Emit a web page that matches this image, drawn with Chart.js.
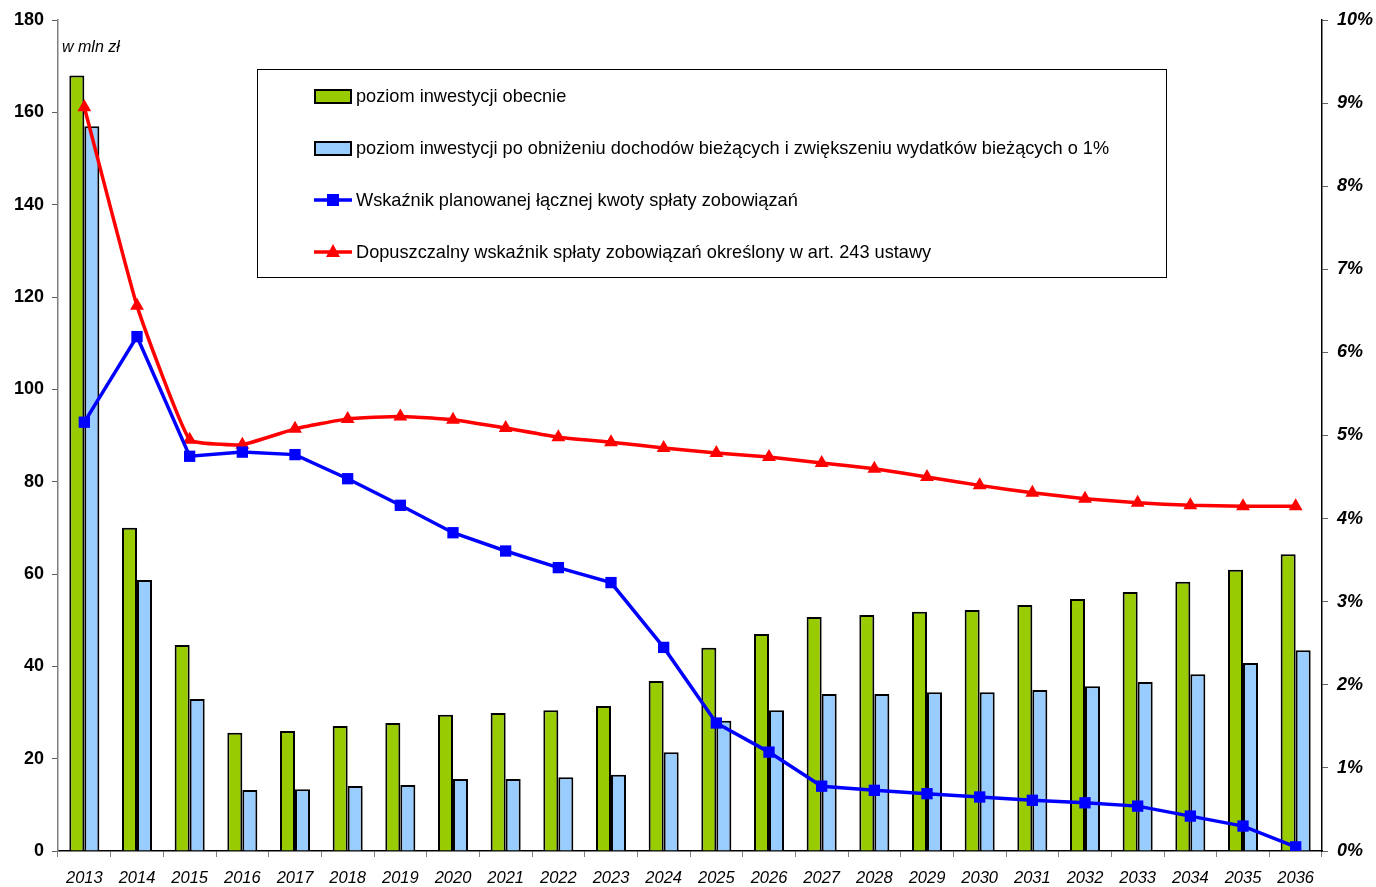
<!DOCTYPE html>
<html>
<head>
<meta charset="utf-8">
<script src="https://cdn.jsdelivr.net/npm/chart.js@4/dist/chart.umd.min.js"></script>
<style>
  html, body { margin: 0; padding: 0; background: #fff; }
  #wrap { width: 1376px; height: 887px; }
</style>
</head>
<body>
<div id="wrap"><canvas id="chart" width="1376" height="887"></canvas></div>
<script>
// Years on the category axis
const years = ['2013','2014','2015','2016','2017','2018','2019','2020','2021','2022','2023','2024',
               '2025','2026','2027','2028','2029','2030','2031','2032','2033','2034','2035','2036'];

// Investment level now (mln zł)
const investNow = [168, 70.0, 44.6, 25.6, 26.0, 27.1, 27.7, 29.5, 29.9, 30.5, 31.4, 36.8,
                   44.0, 47.0, 50.7, 51.1, 51.8, 52.2, 53.3, 54.6, 56.1, 58.3, 60.9, 64.3];

// Investment level after lowering income / raising expenses by 1% (mln zł)
const investLower = [157.0, 58.7, 32.9, 13.2, 13.4, 14.1, 14.3, 15.6, 15.6, 16.0, 16.5, 21.4,
                     28.2, 30.5, 34.0, 34.0, 34.4, 34.4, 34.9, 35.7, 36.6, 38.3, 40.7, 43.5];

// Planned repayment ratio (fraction)
const plannedRatio = [0.0516, 0.0619, 0.0475, 0.0480, 0.0477, 0.0448, 0.0416, 0.0383, 0.0361, 0.0341, 0.0323, 0.0245,
                      0.0154, 0.0119, 0.0078, 0.0073, 0.0069, 0.0065, 0.0061, 0.0058, 0.0054, 0.0042, 0.0030, 0.0005];

// Allowed repayment ratio, art. 243 (fraction)
const allowedRatio = [0.0895, 0.0656, 0.0495, 0.0489, 0.0508, 0.0520, 0.0523, 0.0519, 0.0509, 0.0498, 0.0492, 0.0485,
                      0.0479, 0.0474, 0.0467, 0.0460, 0.0450, 0.0440, 0.0431, 0.0424, 0.0419, 0.0416, 0.0415, 0.0415];

const labels = [
  'poziom inwestycji obecnie',
  'poziom inwestycji po obniżeniu dochodów bieżących i zwiększeniu wydatków bieżących o 1%',
  'Wskaźnik planowanej łącznej kwoty spłaty zobowiązań',
  'Dopuszczalny wskaźnik spłaty zobowiązań określony w art. 243 ustawy'
];

const FONT = '"Liberation Sans", Arial, sans-serif';
const GREEN = '#99cc00', LBLUE = '#99ccff', BLUE = '#0000ff', RED = '#ff0000';

const overlay = {
  id: 'overlay',
  afterDraw(chart) {
    const ctx = chart.ctx;
    ctx.save();
    // unit note
    ctx.fillStyle = '#000';
    ctx.font = 'italic 16px ' + FONT;
    ctx.textBaseline = 'middle';
    ctx.textAlign = 'left';
    ctx.fillText('w mln zł', 62, 48);

    // legend box
    ctx.strokeStyle = '#000';
    ctx.lineWidth = 1;
    ctx.strokeRect(257.5, 69.5, 909, 208);
    const rows = [96, 148, 200, 252];
    ctx.font = '18.2px ' + FONT;
    rows.forEach((y, i) => {
      if (i < 2) {
        ctx.fillStyle = i === 0 ? GREEN : LBLUE;
        ctx.fillRect(315, y - 6, 36, 13);
        ctx.lineWidth = 2;
        ctx.strokeStyle = '#000';
        ctx.strokeRect(315, y - 6, 36, 13);
      } else {
        const col = i === 2 ? BLUE : RED;
        ctx.strokeStyle = col;
        ctx.lineWidth = 3.5;
        ctx.beginPath(); ctx.moveTo(314, y); ctx.lineTo(352, y); ctx.stroke();
        ctx.fillStyle = col;
        if (i === 2) {
          ctx.fillRect(327, y - 6, 12, 12);
        } else {
          ctx.beginPath();
          ctx.moveTo(333, y - 8); ctx.lineTo(340, y + 5); ctx.lineTo(326, y + 5);
          ctx.closePath(); ctx.fill();
        }
      }
      ctx.fillStyle = '#000';
      ctx.fillText(labels[i], 356, y + 1);
    });
    ctx.restore();
  }
};

new Chart(document.getElementById('chart').getContext('2d'), {
  type: 'bar',
  data: {
    labels: years,
    datasets: [
      { type: 'line', label: labels[2], data: plannedRatio, yAxisID: 'y2', order: 0,
        borderColor: BLUE, backgroundColor: BLUE, borderWidth: 3.5, tension: 0,
        pointStyle: 'rect', pointRadius: 8, pointBackgroundColor: BLUE, pointBorderWidth: 0 },
      { type: 'line', label: labels[3], data: allowedRatio, yAxisID: 'y2', order: 0,
        borderColor: RED, backgroundColor: RED, borderWidth: 3.5, tension: 0.12,
        pointStyle: 'triangle', pointRadius: 8, pointBackgroundColor: RED, pointBorderWidth: 0 },
      { label: labels[0], data: investNow, yAxisID: 'y', order: 1,
        backgroundColor: GREEN, borderColor: '#000', borderWidth: 2,
        categoryPercentage: 0.57, barPercentage: 1.0 },
      { label: labels[1], data: investLower, yAxisID: 'y', order: 1,
        backgroundColor: LBLUE, borderColor: '#000', borderWidth: 2,
        categoryPercentage: 0.57, barPercentage: 1.0 },
    ],
  },
  options: {
    responsive: false,
    animation: false,
    layout: { padding: { top: 20, left: 0, right: 0, bottom: 0 } },
    plugins: { legend: { display: false }, tooltip: { enabled: false } },
    scales: {
      x: {
        afterFit: (s) => { s.height = 36; },
        grid: { display: true, drawOnChartArea: false, color: '#808080', tickLength: 6, offset: true },
        border: { color: '#000', width: 1.5 },
        ticks: { color: '#000', font: { family: FONT, size: 16.5, style: 'italic' }, padding: 12, maxRotation: 0, autoSkip: false },
      },
      y: {
        position: 'left', min: 0, max: 180,
        afterFit: (s) => { s.width = 58; },
        grid: { drawOnChartArea: false, color: '#606060', tickLength: 6 },
        border: { color: '#808080', width: 1.5 },
        ticks: { stepSize: 20, color: '#000', padding: 8, font: { family: FONT, size: 18, weight: 'bold' } },
      },
      y2: {
        position: 'right', min: 0, max: 0.1,
        afterFit: (s) => { s.width = 54; },
        grid: { drawOnChartArea: false, color: '#606060', tickLength: 6 },
        border: { color: '#000', width: 1.5 },
        ticks: { stepSize: 0.01, color: '#000', padding: 9,
                 font: { family: FONT, size: 18, weight: 'bold', style: 'italic' },
                 callback: (v) => Math.round(v * 100) + '%' },
      },
    },
  },
  plugins: [overlay],
});
</script>
</body>
</html>
